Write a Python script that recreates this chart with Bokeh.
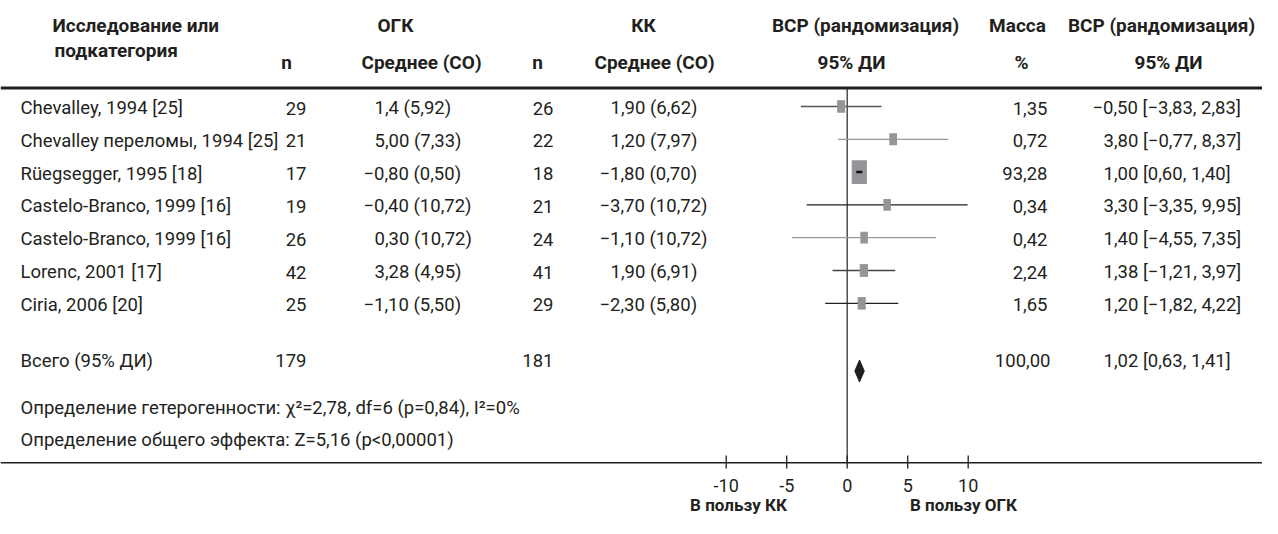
import math
from bokeh.plotting import figure
from bokeh.models import Range1d, Span
from bokeh.core.properties import value
from bokeh.embed import file_html
from bokeh.resources import INLINE

# ---------------- data ----------------
studies = ["Chevalley, 1994 [25]", "Chevalley переломы, 1994 [25]", "Rüegsegger, 1995 [18]",
           "Castelo-Branco, 1999 [16]", "Castelo-Branco, 1999 [16]", "Lorenc, 2001 [17]",
           "Ciria, 2006 [20]"]
n_ogk = [29, 21, 17, 19, 26, 42, 25]
mean_sd_ogk = ["1,4 (5,92)", "5,00 (7,33)", "−0,80 (0,50)", "−0,40 (10,72)", "0,30 (10,72)",
               "3,28 (4,95)", "−1,10 (5,50)"]
n_kk = [26, 22, 18, 21, 24, 41, 29]
mean_sd_kk = ["1,90 (6,62)", "1,20 (7,97)", "−1,80 (0,70)", "−3,70 (10,72)", "−1,10 (10,72)",
              "1,90 (6,91)", "−2,30 (5,80)"]
wmd = [-0.50, 3.80, 1.00, 3.30, 1.40, 1.38, 1.20]
ci_low = [-3.83, -0.77, 0.60, -3.35, -4.55, -1.21, -1.82]
ci_high = [2.83, 8.37, 1.40, 9.95, 7.35, 3.97, 4.22]
weight = [1.35, 0.72, 93.28, 0.34, 0.42, 2.24, 1.65]

total_label = "Всего (95% ДИ)"
total_n_ogk = 179
total_n_kk = 181
total_wmd = 1.02
total_low = 0.63
total_high = 1.41
total_weight = 100.00

heterogeneity = "Определение гетерогенности: χ²=2,78, df=6 (p=0,84), I²=0%"
overall_effect = "Определение общего эффекта: Z=5,16 (p<0,00001)"

axis_ticks = [-10, -5, 0, 5, 10]
axis_tick_labels = ["-10", "-5", "0", "5", "10"]
favours = ["В пользу КК", "В пользу ОГК"]

# ---------------- styles / layout ----------------
FONT = "Roboto"
TXT = "#231f20"
SQ = "#939598"
ci_colors = ["#555555", "#9a9a9a", "#231f20", "#231f20", "#9a9a9a", "#444444", "#231f20"]

W, H = 1262, 518
ZERO_PX, PX_PER_UNIT = 846.7, 12.1
ROW0, ROW_H = 106.0, 32.8


def X(px):  # picture pixel -> data x
    return (px - ZERO_PX) / PX_PER_UNIT


def R(py):  # picture pixel -> row units
    return (py - ROW0) / ROW_H


def fmt(v):
    return f"{v:.2f}".replace(".", ",").replace("-", "−")


def hang(texts):
    return [-11 if t.startswith("−") else 0 for t in texts]


p = figure(width=W, height=H, x_range=Range1d(X(0), X(W)), y_range=Range1d(R(H), R(0)),
           output_backend="svg", toolbar_location=None, min_border=0)
p.axis.visible = False
p.grid.visible = False
p.outline_line_color = None


def txt(x, y, text, size="19px", align="left", bold=False, x_offset=0, color=TXT):
    p.text(x=x, y=y, text=text, text_font=value(FONT), text_font_size=size,
           text_align=align, text_baseline="middle", text_color=color,
           text_font_style="bold" if bold else "normal", x_offset=x_offset)


# header
HS = "19px"
txt([X(52)], [R(25)], ["Исследование или"], HS, bold=True)
txt([X(54)], [R(50)], ["подкатегория"], HS, bold=True)
txt([X(395), X(643), X(865), X(1017), X(1161)], [R(25)] * 5,
    ["ОГК", "КК", "ВСР (рандомизация)", "Масса", "ВСР (рандомизация)"], HS, "center", True)
txt([X(286), X(421), X(537), X(654), X(851), X(1021), X(1168)], [R(62)] * 7,
    ["n", "Среднее (СО)", "n", "Среднее (СО)", "95% ДИ", "%", "95% ДИ"], HS, "center", True)

p.add_layout(Span(location=R(87.5), dimension="width", line_color=TXT, line_width=3))
p.add_layout(Span(location=R(462.3), dimension="width", line_color=TXT, line_width=1.5))

rows = list(range(len(studies)))

# zero line
p.segment(x0=[0], y0=[R(88)], x1=[0], y1=[R(462)], line_color="#333333", line_width=1.3)

# CI lines and squares
p.segment(x0=ci_low, y0=rows, x1=ci_high, y1=rows, line_color=ci_colors, line_width=1.3)
sq_w = [7.0 + 0.85 * math.sqrt(w) for w in weight]
sq_h = [1.55 * w for w in sq_w]
p.rect(x=wmd, y=rows, width=sq_w, height=sq_h, width_units="screen", height_units="screen",
       fill_color=SQ, line_color=None)
inner = [i for i in rows if (ci_high[i] - ci_low[i]) * PX_PER_UNIT < sq_w[i]]
p.segment(x0=[ci_low[i] + 0.15 for i in inner], y0=inner, x1=[ci_high[i] - 0.15 for i in inner],
          y1=inner, line_color="#111111", line_width=2.5)

# diamond
yd = R(370.5)
half = 11 / ROW_H
p.patch(x=[total_low, total_wmd, total_high, total_wmd], y=[yd, yd - half, yd, yd + half],
        fill_color=TXT, line_color=TXT)

# table text
BS = "18.5px"
ty = [r + 1.5 / ROW_H for r in rows]
txt([X(20)] * len(rows), ty, studies, BS)
txt([X(306)] * len(rows), ty, [str(v) for v in n_ogk], BS, "right")
txt([X(374)] * len(rows), ty, mean_sd_ogk, BS, x_offset=hang(mean_sd_ogk))
txt([X(553)] * len(rows), ty, [str(v) for v in n_kk], BS, "right")
txt([X(610)] * len(rows), ty, mean_sd_kk, BS, x_offset=hang(mean_sd_kk))
txt([X(1047)] * len(rows), ty, [f"{w:.2f}".replace(".", ",") for w in weight], BS, "right")
ci_txt = [f"{fmt(w)} [{fmt(lo)}, {fmt(hi)}]" for w, lo, hi in zip(wmd, ci_low, ci_high)]
txt([X(1103)] * len(rows), ty, ci_txt, BS, x_offset=hang(ci_txt))

# totals
yt = R(360)
txt([X(20)], [yt], [total_label], BS)
txt([X(306)], [yt], [str(total_n_ogk)], BS, "right")
txt([X(553)], [yt], [str(total_n_kk)], BS, "right")
txt([X(1050)], [yt], [f"{total_weight:.2f}".replace(".", ",")], BS, "right")
txt([X(1103)], [yt], [f"{fmt(total_wmd)} [{fmt(total_low)}, {fmt(total_high)}]"], BS)

txt([X(20)], [R(407)], [heterogeneity], BS)
txt([X(20)], [R(439)], [overall_effect], BS)

# axis ticks
p.segment(x0=axis_ticks, y0=[R(455)] * 5, x1=axis_ticks, y1=[R(468)] * 5,
          line_color=TXT, line_width=1.3)
txt(axis_ticks, [R(485)] * 5, axis_tick_labels, "18px", "center")
txt([X(738), X(963)], [R(504)] * 2, favours, "17px", "center", True)

open("out.html", "w").write(file_html(p, INLINE))
